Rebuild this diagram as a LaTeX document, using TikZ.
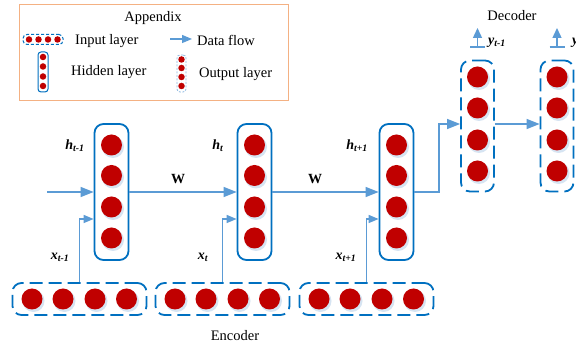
\documentclass[tikz,border=0pt]{standalone}
\usepackage{fontspec}
\setmainfont{Liberation Serif}
\usetikzlibrary{arrows.meta}
\definecolor{dotred}{RGB}{192,0,0}
\definecolor{boxblue}{RGB}{0,112,192}
\definecolor{flowblue}{RGB}{91,155,213}
\definecolor{legorange}{RGB}{244,177,131}
\definecolor{halo}{RGB}{214,228,242}
\newcommand\mylab[2]{\textbf{\textit{#1}\textsubscript{\textit{#2}}}}
\begin{document}
\begin{tikzpicture}[x=1pt,y=-1pt,
  hid/.style={draw=boxblue, line width=1.8pt, rounded corners=9pt, inner sep=0pt},
  dashbox/.style={draw=boxblue, line width=1.8pt, dash pattern=on 13pt off 6pt, rounded corners=9pt, inner sep=0pt},
  neuron/.style={circle, fill=dotred, minimum size=21pt, inner sep=0pt},
  shade/.style={circle, fill=halo, minimum size=22pt, inner sep=0pt},
  smalldot/.style={circle, fill=dotred, minimum size=6.5pt, inner sep=0pt},
  flow/.style={draw=flowblue, line width=1.4pt, -{Triangle[length=13pt,width=10pt]}},
  sflow/.style={draw=flowblue, line width=1.4pt, -{Triangle[length=10pt,width=8pt]}},
  lbl/.style={font=\fontsize{14.5}{16}\selectfont, inner sep=0pt},
  sym/.style={font=\fontsize{14}{16}\selectfont, inner sep=0pt}]
\clip (0,0) rectangle (576,344);
\fill[white] (0,0) rectangle (576,344);

% legend
\node[draw=legorange, line width=1pt, minimum width=269pt, minimum height=96pt, inner sep=0pt] (legend) at (153.5,53) {};
\node[lbl] (apx) at (153,18) {Appendix};
\node[dashbox, line width=1pt, dash pattern=on 3pt off 2pt, rounded corners=4pt, minimum width=40pt, minimum height=10pt] (li) at (43,39.5) {};
\foreach \k/\x in {1/29,2/38.5,3/48,4/57.5} \node[smalldot] (lid\k) at (\x,39.5) {};
\node[lbl, anchor=west] (lit) at (75,41) {Input layer};
\coordinate (dfa) at (170,39);
\coordinate (dfb) at (192,39);
\draw[sflow, line width=1.2pt] (dfa) -- (dfb);
\node[lbl, anchor=west] (dft) at (197,40) {Data flow};
\node[hid, line width=1pt, rounded corners=3pt, minimum width=10pt, minimum height=40pt] (lh) at (43,72) {};
\foreach \k/\y in {1/57,2/66.5,3/76.5,4/86} \node[smalldot] (lhd\k) at (43,\y) {};
\node[lbl, anchor=west] (lht) at (71,72) {Hidden layer};
\node[dashbox, draw=flowblue!70, line width=0.8pt, dash pattern=on 2pt off 1.5pt, rounded corners=3pt, minimum width=9pt, minimum height=37pt] (lo) at (181.5,73.5) {};
\foreach \k/\y in {1/59.5,2/68,3/77,4/86} \node[smalldot] (lod\k) at (181.5,\y) {};
\node[lbl, anchor=west] (lot) at (199,74) {Output layer};

% encoder hidden layers
\foreach \c/\x in {1/111.5,2/254.5,3/396.5} {
  \node[hid, minimum width=34pt, minimum height=136pt] (h\c) at (\x,192) {};
  \foreach \k/\y in {1/145,2/175.5,3/207,4/238} {
    \node[shade] (h\c s\k) at (\x+1.5,\y+2) {};
    \node[neuron] (h\c n\k) at (\x,\y) {};
  }
}
% encoder input layers
\foreach \c/\x in {1/79.5,2/222.5,3/366.5} {
  \node[dashbox, minimum width=134pt, minimum height=32pt] (in\c) at (\x,299) {};
  \foreach \k/\d in {1/-47.5,2/-16.5,3/15.5,4/47} {
    \node[shade] (in\c s\k) at (\x+\d+1.5,301) {};
    \node[neuron] (in\c n\k) at (\x+\d,299) {};
  }
}
% decoder layers
\foreach \c/\x in {1/477.5,2/557} {
  \node[dashbox, minimum width=33pt, minimum height=131pt] (d\c) at (\x,126) {};
  \foreach \k/\y in {1/77,2/108,3/140,4/171} {
    \node[shade] (d\c s\k) at (\x+1.5,\y+2) {};
    \node[neuron] (d\c n\k) at (\x,\y) {};
  }
  \coordinate (bl\c) at (\x-7.5,47);
  \coordinate (br\c) at (\x+7.5,47);
  \coordinate (bm\c) at (\x,47);
  \coordinate (top\c) at (\x,28);
  \draw[flowblue, line width=1.4pt] (bl\c) -- (br\c);
  \draw[sflow, -{Triangle[length=10pt,width=9pt]}] (bm\c) -- (top\c);
}

% flows
\coordinate (start) at (47,192);
\draw[flow] (start) -- (start -| h1.west);
\draw[flow] (h1.east |- start) -- (start -| h2.west);
\draw[flow] (h2.east |- start) -- (start -| h3.west);
\coordinate (turn) at (439,192);
\coordinate (enter) at (439,124);
\draw[flow] (h3.east |- turn) -- (turn) -- (enter) -- (enter -| d1.west);
\coordinate (dd) at (0,124);
\draw[flow] (d1.east |- dd) -- (dd -| d2.west);
\foreach \c in {1,2,3} {
  \coordinate (xin\c) at (in\c.north);
  \coordinate (xup\c) at (in\c.north |- 0,219);
  \draw[sflow] (xin\c) -- (xup\c) -- (xup\c -| h\c.west);
}

% labels
\node[sym] (lht1) at (75,146) {\mylab{h}{t-1}};
\node[sym] (lht2) at (218,146) {\mylab{h}{t}};
\node[sym] (lht3) at (357,146) {\mylab{h}{t+1}};
\node[sym] (lxt1) at (60,257) {\mylab{x}{t-1}};
\node[sym] (lxt2) at (203,257) {\mylab{x}{t}};
\node[sym] (lxt3) at (346,257) {\mylab{x}{t+1}};
\node[sym] (lyt1) at (497,43) {\mylab{y}{t-1}};
\node[sym, anchor=west] (lyt2) at (572,43) {\mylab{y}{t}};
\node[lbl, font=\fontsize{14}{16}\selectfont\bfseries] (w1) at (178,179) {W};
\node[lbl, font=\fontsize{14}{16}\selectfont\bfseries] (w2) at (315,179) {W};
\node[lbl] (enc) at (235,336) {Encoder};
\node[lbl] (dec) at (512,16) {Decoder};
\end{tikzpicture}
\end{document}
